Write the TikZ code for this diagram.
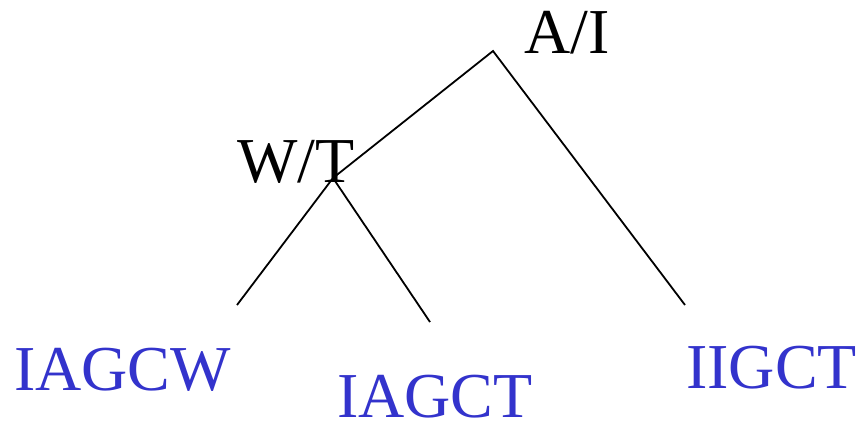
\documentclass[tikz,border=0pt]{standalone}
\usepackage{fontspec}
\setmainfont{Liberation Serif}
\definecolor{leafblue}{RGB}{51,51,204}
\begin{document}
\begin{tikzpicture}[x=1pt,y=-1pt,
  lbl/.style={anchor=base west,inner sep=0pt,text depth=0pt,font=\fontsize{64}{64}\selectfont},
  leaf/.style={lbl,text=leafblue},
  edge/.style={line width=1.8pt,black}]
\useasboundingbox (0,0) rectangle (858,423);
\coordinate (root) at (493,51);
\coordinate (wt) at (333,178);
\coordinate (l1) at (237,305);
\coordinate (l2) at (430,322);
\coordinate (l3) at (685,305);
\node[lbl] (ai) at (524,53) {A/I};
\node[lbl] (wtl) at (237,182) {W/T};
\node[leaf] (t1) at (14,390) {IAGCW};
\node[leaf] (t2) at (337,417) {IAGCT};
\node[leaf] (t3) at (686,388) {IIGCT};
\draw[edge] (l3) -- (root) -- (wt);
\draw[edge] (l1) -- (wt) -- (l2);
\end{tikzpicture}
\end{document}
